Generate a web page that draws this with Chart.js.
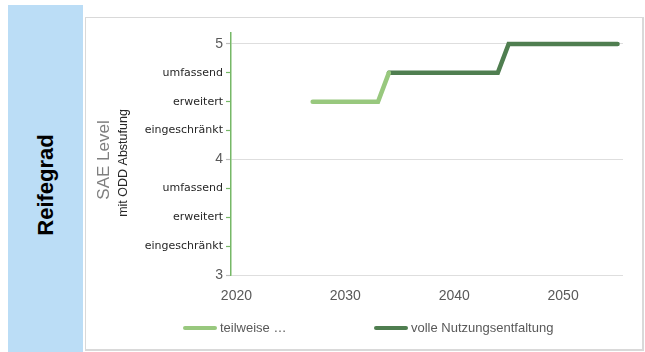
<!DOCTYPE html>
<html>
<head>
<meta charset="utf-8">
<script src="https://cdn.jsdelivr.net/npm/chart.js@4"></script>
<style>
  html, body { margin: 0; padding: 0; background: #fff; }
  #page { position: relative; width: 645px; height: 352px; overflow: hidden; font-family: "Liberation Sans", Arial, sans-serif; }
  #side { position: absolute; left: 8px; top: 5px; width: 75px; height: 347px; background: #bbddf6; }
  #side span { position: absolute; left: 50%; top: 180px; transform: translate(-50%, -50%) rotate(-90deg); font-weight: bold; font-size: 22px; color: #000; white-space: nowrap; }
  #frame { position: absolute; left: 85px; top: 17px; width: 556px; height: 331px; border: 1px solid #d9d9d9; border-right-width: 2px; border-bottom-width: 2px; }
  #wrap { position: absolute; left: 0; top: 0; width: 645px; height: 352px; }
  #legend { position: absolute; top: 320px; left: 0; width: 645px; height: 16px; font-size: 13px; color: #595959; }
  .item { position: absolute; display: flex; align-items: center; white-space: nowrap; }
  .swatch { width: 34px; height: 4px; border-radius: 2px; margin-right: 3px; }
</style>
</head>
<body>
<div id="page">
  <div id="side"><span>Reifegrad</span></div>
  <div id="frame"></div>
  <div id="wrap"><canvas id="chart"></canvas></div>
  <div id="legend"></div>
</div>
<script>
// years on the x axis
const xTicks = [2020, 2030, 2040, 2050];

// SAE level with ODD sub-steps (x.25 / x.5 / x.75)
const yTicks = [3, 3.25, 3.5, 3.75, 4, 4.25, 4.5, 4.75, 5];
const yTickLabels = ['3', 'eingeschränkt', 'erweitert', 'umfassend', '4', 'eingeschränkt', 'erweitert', 'umfassend', '5'];

const seriesNames = ['teilweise …', 'volle Nutzungsentfaltung'];
const partialYears = [2027, 2033, 2034];
const partialLevels = [4.5, 4.5, 4.75];
const fullYears = [2034, 2044, 2045, 2055];
const fullLevels = [4.75, 4.75, 5, 5];

const colors = ['#98c87e', '#4f7e50'];
const axisGreen = '#76b867';

const toPoints = (xs, ys) => xs.map((x, i) => ({ x: x, y: ys[i] }));
const isMain = (c) => !!(c && c.tick && Number.isInteger(c.tick.value));

// axis titles drawn left of the tick labels
const axisTitles = {
  id: 'axisTitles',
  afterDraw(chart) {
    const { ctx, chartArea } = chart;
    const mid = (chartArea.top + chartArea.bottom) / 2 + 6;
    ctx.save();
    ctx.textAlign = 'center';
    ctx.textBaseline = 'middle';
    ctx.translate(104, mid);
    ctx.rotate(-Math.PI / 2);
    ctx.fillStyle = '#7f7f7f';
    ctx.font = '17px "Liberation Sans", Arial, sans-serif';
    ctx.fillText('SAE Level', 0, 0);
    ctx.restore();

    ctx.save();
    ctx.textAlign = 'center';
    ctx.textBaseline = 'middle';
    ctx.translate(124, mid + 3);
    ctx.rotate(-Math.PI / 2);
    ctx.fillStyle = '#262626';
    ctx.font = '12.5px "Liberation Sans", Arial, sans-serif';
    ctx.fillText('mit ODD Abstufung', 0, 0);
    ctx.restore();
  }
};

const chart = new Chart(document.getElementById('chart'), {
  type: 'line',
  data: {
    datasets: [
      { label: seriesNames[0], data: toPoints(partialYears, partialLevels), borderColor: colors[0], backgroundColor: colors[0] },
      { label: seriesNames[1], data: toPoints(fullYears, fullLevels), borderColor: colors[1], backgroundColor: colors[1] }
    ]
  },
  options: {
    responsive: true,
    maintainAspectRatio: false,
    animation: false,
    layout: { padding: { top: 33, right: 22, left: 0, bottom: 0 } },
    elements: {
      line: { borderWidth: 4.5, borderCapStyle: 'round', borderJoinStyle: 'miter', tension: 0 },
      point: { radius: 0 }
    },
    plugins: { legend: { display: false }, tooltip: { enabled: false } },
    scales: {
      x: {
        type: 'linear',
        min: 2019.5,
        max: 2055.5,
        afterBuildTicks: (scale) => { scale.ticks = xTicks.map(v => ({ value: v })); },
        afterFit: (scale) => { scale.height = 77; },
        grid: { display: false },
        border: { display: false },
        ticks: {
          padding: 5,
          color: '#595959',
          font: { family: '"Liberation Sans", Arial, sans-serif', size: 14 },
          callback: (v) => String(v)
        }
      },
      y: {
        min: 3,
        max: 5.095,
        afterBuildTicks: (scale) => { scale.ticks = yTicks.map(v => ({ value: v })); },
        afterFit: (scale) => { scale.width = 231; },
        border: { color: axisGreen, width: 1.5 },
        grid: {
          color: (c) => isMain(c) ? '#dedede' : 'rgba(0,0,0,0)',
          tickColor: (c) => isMain(c) ? '#bdbdbd' : axisGreen,
          tickWidth: 1.2,
          tickLength: 5,
          lineWidth: 1
        },
        ticks: {
          padding: 3,
          color: (c) => isMain(c) ? '#595959' : '#262626',
          font: (c) => isMain(c)
            ? { family: '"Liberation Sans", Arial, sans-serif', size: 14 }
            : { family: '"DejaVu Sans", sans-serif', size: 11 },
          callback: (v) => yTickLabels[yTicks.indexOf(v)]
        }
      }
    }
  },
  plugins: [axisTitles]
});

// legend built from the chart's datasets
const legendEl = document.getElementById('legend');
const legendLeft = [183, 374];
chart.data.datasets.forEach((ds, i) => {
  const item = document.createElement('div');
  item.className = 'item';
  item.style.left = legendLeft[i] + 'px';
  const sw = document.createElement('div');
  sw.className = 'swatch';
  sw.style.background = ds.borderColor;
  const txt = document.createElement('span');
  txt.textContent = ds.label;
  item.appendChild(sw);
  item.appendChild(txt);
  legendEl.appendChild(item);
});
</script>
</body>
</html>
